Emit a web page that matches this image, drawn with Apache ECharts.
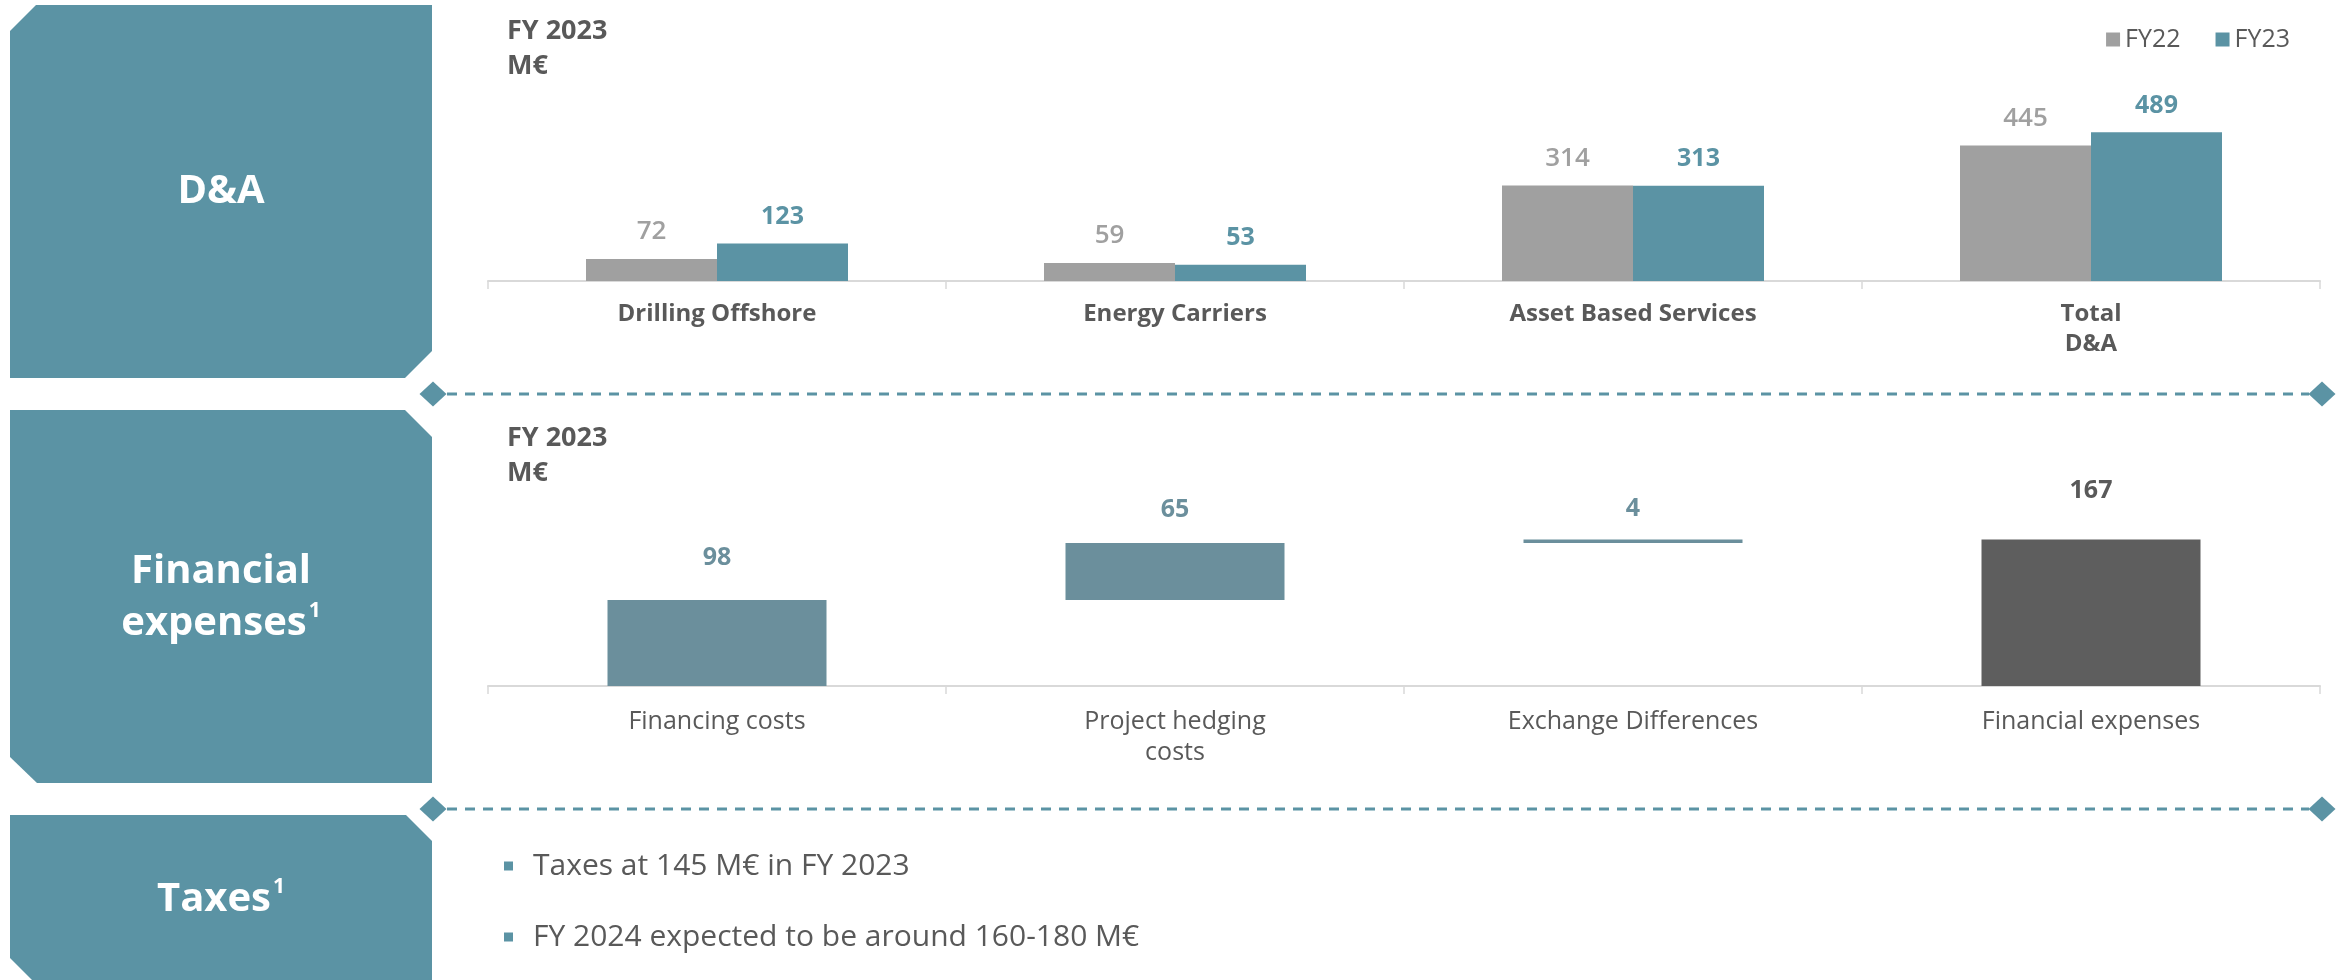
<!DOCTYPE html>
<html>
<head>
<meta charset="utf-8">
<title>D&amp;A, Financial expenses and Taxes – FY 2023</title>
<script src="https://cdn.jsdelivr.net/npm/echarts@6/dist/echarts.min.js"></script>
<style>
  html, body { margin: 0; padding: 0; background: #ffffff; }
  #chart { width: 2341px; height: 980px; }
</style>
</head>
<body>
<div id="chart"></div>
<script>
// ---- Data -------------------------------------------------------------
const daCategories = ['Drilling Offshore', 'Energy Carriers', 'Asset Based Services', 'Total\nD&A'];
const daFY22 = [72, 59, 314, 445];
const daFY23 = [123, 53, 313, 489];
const daSeriesNames = ['FY22', 'FY23'];

const finCategories = ['Financing costs', 'Project hedging\ncosts', 'Exchange Differences', 'Financial expenses'];
const finValues = [98, 65, 4, 167];   // last entry is the total

const periodLines = ['FY 2023', 'M€'];
const taxNotes = ['Taxes at 145 M€ in FY 2023', 'FY 2024 expected to be around 160-180 M€'];

// ---- Styling ----------------------------------------------------------
const FONT = '"Open Sans", "Noto Sans", sans-serif';
const TEAL = '#5b93a4';
const GREY = '#a0a0a0';
const MUTED_TEAL = '#6b8f9c';
const DARK = '#5e5e5e';
const TEXT = '#595959';
const AXIS = '#d9d9d9';

// Waterfall helpers: floating bars start where the previous ones ended
const finLast = finValues.length - 1;
const finBase = finValues.map((v, i) => {
  if (i === 0 || i === finLast) return 0;
  return finValues.slice(0, i).reduce((a, b) => a + b, 0);
});
const finLabelGap = [30, 21, 18, 36];

const chart = echarts.init(document.getElementById('chart'), null, { renderer: 'canvas' });

// Section boxes on the left (chamfered corners)
function panel(points) {
  return { type: 'polygon', shape: { points }, style: { fill: TEAL }, silent: true };
}
function diamond(cx, cy) {
  return {
    type: 'polygon',
    shape: { points: [[cx - 13.5, cy], [cx, cy - 12.5], [cx + 13.5, cy], [cx, cy + 12.5]] },
    style: { fill: TEAL }, silent: true
  };
}
function divider(y) {
  return [
    { type: 'line', shape: { x1: 447, y1: y, x2: 2309, y2: y },
      style: { stroke: TEAL, lineWidth: 3, lineDash: [10, 8] }, silent: true },
    diamond(433, y), diamond(2322, y)
  ];
}
function panelLabel(cx, cy, text) {
  return {
    type: 'text', x: cx, y: cy, silent: true,
    style: {
      text, align: 'center', verticalAlign: 'middle', fill: '#ffffff',
      rich: {
        m: { fontFamily: FONT, fontSize: 40, fontWeight: 'bold', fill: '#ffffff', lineHeight: 52 },
        s: { fontFamily: FONT, fontSize: 21, fontWeight: 'bold', fill: '#ffffff', lineHeight: 52, verticalAlign: 'top', padding: [3, 0, 0, 2] }
      }
    }
  };
}
function periodTitle(x, y) {
  return periodLines.map((t, i) => ({
    type: 'text', x, y: y + i * 35, silent: true,
    style: { text: t, fontFamily: FONT, fontSize: 27, fontWeight: 'bold', fill: TEXT, verticalAlign: 'middle' }
  }));
}
function bullets(x, y0, step) {
  const out = [];
  taxNotes.forEach((t, i) => {
    const y = y0 + i * step;
    out.push({ type: 'rect', shape: { x: x - 29, y: y - 4.5, width: 9, height: 9 }, style: { fill: TEAL }, silent: true });
    out.push({ type: 'text', x, y, silent: true,
      style: { text: t, fontFamily: FONT, fontSize: 30, fill: TEXT, verticalAlign: 'middle' } });
  });
  return out;
}

const graphics = [
  panel([[36, 5], [432, 5], [432, 351], [405, 378], [10, 378], [10, 31]]),
  panel([[10, 410], [405, 410], [432, 437], [432, 783], [37, 783], [10, 757]]),
  panel([[10, 815], [406, 815], [432, 841], [432, 990], [42, 990], [10, 958]]),
  panelLabel(221, 192, '{m|D&A}'),
  panelLabel(221, 598, '{m|Financial}\n{m|expenses}{s|1}'),
  panelLabel(221, 900, '{m|Taxes}{s|1}'),
  ...divider(394),
  ...divider(809),
  ...periodTitle(507, 31),
  ...periodTitle(507, 438),
  ...bullets(533, 866, 71)
];

const categoryAxisCommon = {
  type: 'category',
  axisLine: { lineStyle: { color: AXIS, width: 2 } },
  axisTick: { show: true, length: 8, lineStyle: { color: AXIS, width: 1.5 } }
};

const option = {
  animation: false,
  backgroundColor: '#ffffff',
  textStyle: { fontFamily: FONT },
  legend: {
    data: daSeriesNames,
    right: 46, top: 22,
    icon: 'rect', itemWidth: 14, itemHeight: 14, itemGap: 35,
    textStyle: { fontFamily: FONT, fontSize: 25, color: TEXT }
  },
  grid: [
    { left: 488, right: 21, top: 98.4, bottom: 699 },
    { left: 488, right: 21, top: 510.5, bottom: 294 }
  ],
  xAxis: [
    Object.assign({}, categoryAxisCommon, {
      gridIndex: 0, data: daCategories,
      axisLabel: { fontFamily: FONT, fontSize: 24, fontWeight: 'bold', color: TEXT, lineHeight: 30, margin: 18 }
    }),
    Object.assign({}, categoryAxisCommon, {
      gridIndex: 1, data: finCategories,
      axisLabel: { fontFamily: FONT, fontSize: 25, color: TEXT, lineHeight: 31, margin: 20 }
    })
  ],
  yAxis: [
    { type: 'value', gridIndex: 0, min: 0, max: 600, show: false },
    { type: 'value', gridIndex: 1, min: 0, max: 200, show: false }
  ],
  graphic: graphics,
  series: [
    {
      name: daSeriesNames[0], type: 'bar', xAxisIndex: 0, yAxisIndex: 0,
      data: daFY22, barWidth: 131, barGap: '0%',
      itemStyle: { color: GREY },
      label: { show: true, position: 'top', distance: 14, fontFamily: FONT, fontSize: 26, fontWeight: 600, color: GREY }
    },
    {
      name: daSeriesNames[1], type: 'bar', xAxisIndex: 0, yAxisIndex: 0,
      data: daFY23, barWidth: 131, barGap: '0%',
      itemStyle: { color: TEAL },
      label: { show: true, position: 'top', distance: 14, fontFamily: FONT, fontSize: 25, fontWeight: 'bold', color: TEAL }
    },
    {
      name: 'base', type: 'bar', xAxisIndex: 1, yAxisIndex: 1, stack: 'fin',
      data: finBase, barWidth: 219, silent: true,
      itemStyle: { color: 'transparent' }
    },
    {
      name: 'Financial expenses', type: 'bar', xAxisIndex: 1, yAxisIndex: 1, stack: 'fin',
      barWidth: 219,
      data: finValues.map((v, i) => ({
        value: v,
        itemStyle: { color: i === finLast ? DARK : MUTED_TEAL },
        label: { distance: finLabelGap[i], color: i === finLast ? TEXT : MUTED_TEAL }
      })),
      label: { show: true, position: 'top', fontFamily: FONT, fontSize: 25, fontWeight: 'bold' }
    }
  ]
};

chart.setOption(option);
</script>
</body>
</html>
